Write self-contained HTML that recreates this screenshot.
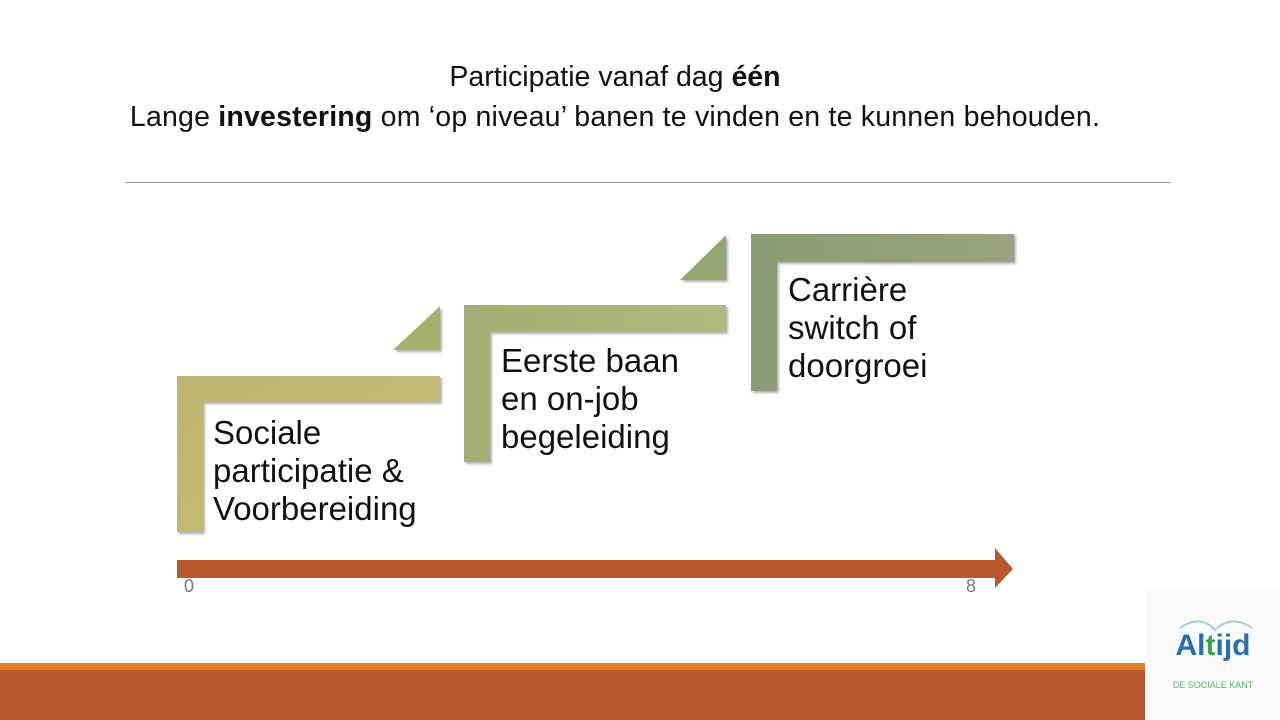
<!DOCTYPE html>
<html><head><meta charset="utf-8"><style>
body{margin:0;width:1280px;height:720px;position:relative;background:#fff;font-family:"Liberation Sans",Calibri,sans-serif;overflow:hidden}
.t{position:absolute;left:0;width:1230px;text-align:center;font-size:26px;color:#111;white-space:nowrap}
.a{position:absolute}
.lbl{position:absolute;font-size:33px;line-height:38px;color:#111;white-space:nowrap}
</style></head><body>
<div class="t" style="top:61px;font-size:28.5px">Participatie vanaf dag <b>één</b></div>
<div class="t" style="top:101px;font-size:28.5px;letter-spacing:0.2px">Lange <b>investering</b> om ‘op niveau’ banen te vinden en te kunnen behouden.</div>
<div class="a" style="left:125px;top:182px;width:1046px;height:1px;background:#999"></div>
<svg class="a" style="left:0;top:0" width="1280" height="720">
<defs>
<linearGradient id="g1" x1="0" y1="0" x2="1" y2="1"><stop offset="0" stop-color="#bdb56f"/><stop offset="1" stop-color="#c6bd78"/></linearGradient>
<linearGradient id="g2" x1="0" y1="0" x2="1" y2="0"><stop offset="0" stop-color="#a3ae73"/><stop offset="1" stop-color="#b0b97f"/></linearGradient>
<linearGradient id="g3" x1="0" y1="0" x2="1" y2="0"><stop offset="0" stop-color="#8d9a76"/><stop offset="1" stop-color="#9aa47f"/></linearGradient>
</defs>
<g style="filter:drop-shadow(2px 2px 1px rgba(0,0,0,0.3))">
<path d="M177 376H440V402H203V532H177Z" fill="url(#g1)"/>
<path d="M393 350H440V306Z" fill="#a8b06e"/>
<path d="M464 305H726V332H490V462H464Z" fill="url(#g2)"/>
<path d="M680 280H726V235Z" fill="#98a672"/>
<path d="M751 234H1014V262H777V391H751Z" fill="url(#g3)"/>
</g>
<path d="M177 560H995V548L1013 569L995 588V578H177Z" fill="#b8582c"/>
<rect x="0" y="663" width="1145" height="7" fill="#e07f1f"/>
<rect x="0" y="670" width="1145" height="50" fill="#b8582c"/>
<rect x="1145" y="590" width="135" height="130" fill="#fafafa"/>
<path d="M1180 628 Q1200 614 1215 630 Q1232 614 1252 628" stroke="#a8cde8" stroke-width="2" fill="none"/>
<text x="1213" y="655" text-anchor="middle" font-family="Liberation Sans" font-weight="bold" font-size="30" fill="#2a6db5">Al<tspan fill="#3aa54a">t</tspan>ijd</text>
<text x="1213" y="688" text-anchor="middle" font-family="Liberation Sans" font-size="9" fill="#5bb55b">DE SOCIALE KANT</text>
</svg>
<div class="lbl" style="left:213px;top:414px">Sociale<br>participatie &amp;<br>Voorbereiding</div>
<div class="lbl" style="left:501px;top:342px">Eerste baan<br>en on-job<br>begeleiding</div>
<div class="lbl" style="left:788px;top:271px">Carrière<br>switch of<br>doorgroei</div>
<div class="a" style="left:184px;top:576px;font-size:18px;color:#777">0</div>
<div class="a" style="left:966px;top:576px;font-size:18px;color:#777">8</div>
</body></html>
